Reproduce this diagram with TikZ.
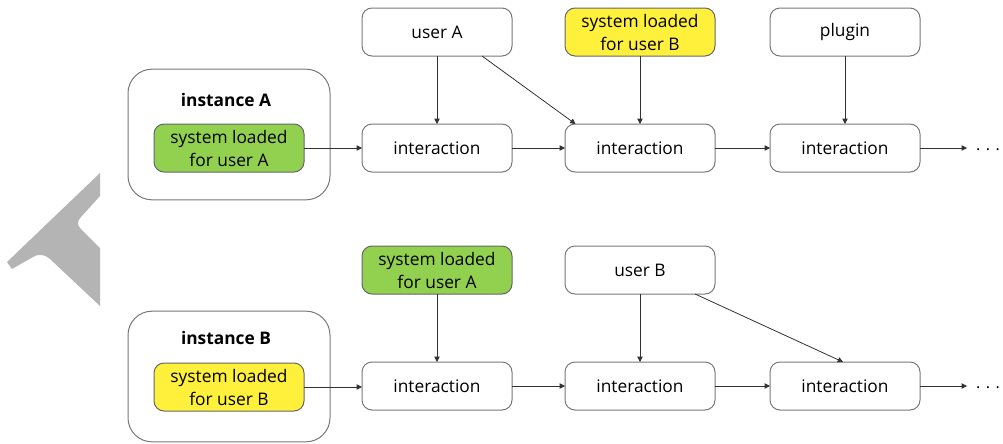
\documentclass[tikz,border=0pt]{standalone}
\usepackage{fontspec}
\setmainfont{Open Sans}
\usetikzlibrary{positioning,calc,arrows.meta}
\definecolor{sysgreen}{RGB}{146,208,80}
\definecolor{sysyellow}{RGB}{255,240,60}
\definecolor{boxline}{RGB}{120,120,120}
\definecolor{arrline}{RGB}{50,50,50}
\definecolor{markgray}{RGB}{180,180,180}

\begin{document}
\begin{tikzpicture}[x=0.75pt, y=-0.75pt,
        box/.style={draw=boxline, rounded corners=7.5pt, line width=0.75pt,
          minimum width=112.5pt, minimum height=36pt, inner sep=0pt, outer sep=0pt,
          align=center, font=\fontsize{13}{17.25}\selectfont},
        sysa/.style={box, fill=sysgreen, draw=black!60},
        sysb/.style={box, fill=sysyellow, draw=black!60},
        inst/.style={draw=boxline, rounded corners=18pt, line width=0.75pt,
          minimum width=151.5pt, minimum height=98pt},
        title/.style={font=\fontsize{13}{17.25}\selectfont\bfseries},
        arr/.style={draw=arrline, line width=0.6pt, -{Triangle[length=4pt,width=4pt]}}
        ]
        \useasboundingbox (0,0) rectangle (1003,443);
        % watermark corner
        \fill[markgray] (100,173) -- (7,262) -- (12,269) -- (33,257)
          .. controls (40,253) and (45,255) .. (50,259) -- (100,306) -- (100,248)
          -- (81,229) .. controls (77,225) and (77,221) .. (81,217) -- (100,196) -- cycle;

        % instance A
        \node[inst] (instA) at (229,134.5) {};
        \node[title] (tA) at (226,100) {instance A};
        \node[sysa] (sysA) at (229,148) {system loaded\\for user A};
        \node[box, right=43.5pt of sysA] (intA1) {interaction};
        \node[box, right=39.75pt of intA1] (intA2) {interaction};
        \node[box, right=41.25pt of intA2] (intA3) {interaction};
        \node[box, above=51pt of intA1] (userA) {user A};
        \node[sysb, above=51pt of intA2] (sysBtop) {system loaded\\for user B};
        \node[box, above=51pt of intA3] (plugin) {plugin};
        \coordinate[right=35.25pt of intA3] (endA);
        \node[font=\fontsize{12}{17}\selectfont] (dotsA) at (988,150) {. . .};

        \draw[arr] (sysA) -- (intA1);
        \draw[arr] (intA1) -- (intA2);
        \draw[arr] (intA2) -- (intA3);
        \draw[arr] (intA3) -- (endA);
        \draw[arr] (userA) -- (intA1);
        \draw[arr] ($(userA.south west)!0.8!(userA.south east)$)
          -- ($(intA2.north west)!0.07!(intA2.north east)$);
        \draw[arr] (sysBtop) -- (intA2);
        \draw[arr] (plugin) -- (intA3);

        % instance B
        \node[inst] (instB) at (229,376.5) {};
        \node[title] (tB) at (226,338) {instance B};
        \node[sysb] (sysB) at (229,387) {system loaded\\for user B};
        \node[box] (intB1) at (437,386) {interaction};
        \node[box, right=39.75pt of intB1] (intB2) {interaction};
        \node[box, right=41.25pt of intB2] (intB3) {interaction};
        \node[sysa, above=51pt of intB1] (sysAtop) {system loaded\\for user A};
        \node[box, above=51pt of intB2] (userB) {user B};
        \coordinate[right=35.25pt of intB3] (endB);
        \node[font=\fontsize{12}{17}\selectfont] (dotsB) at (988,388) {. . .};

        \draw[arr] (sysB.east) -- (sysB.east -| intB1.west);
        \draw[arr] (intB1) -- (intB2);
        \draw[arr] (intB2) -- (intB3);
        \draw[arr] (intB3) -- (endB);
        \draw[arr] (sysAtop) -- (intB1);
        \draw[arr] (userB) -- (intB2);
        \draw[arr] ($(userB.south west)!0.867!(userB.south east)$)
          -- ($(intB3.north west)!0.487!(intB3.north east)$);
\end{tikzpicture}
\end{document}
